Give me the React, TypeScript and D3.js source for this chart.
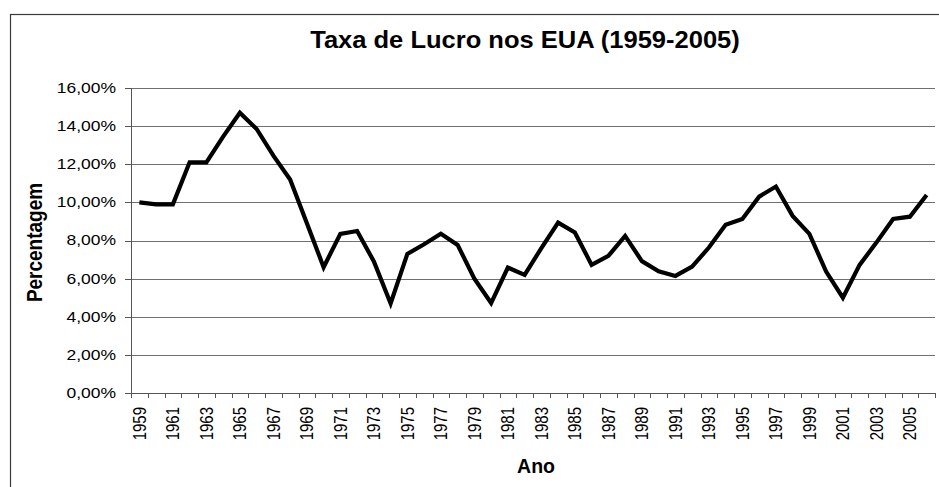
import React from 'react';
import * as d3 from 'd3';

// anos (categorias) e taxa de lucro em %
const years: number[] = [
  1959, 1960, 1961, 1962, 1963, 1964, 1965, 1966, 1967, 1968, 1969, 1970,
  1971, 1972, 1973, 1974, 1975, 1976, 1977, 1978, 1979, 1980, 1981, 1982,
  1983, 1984, 1985, 1986, 1987, 1988, 1989, 1990, 1991, 1992, 1993, 1994,
  1995, 1996, 1997, 1998, 1999, 2000, 2001, 2002, 2003, 2004, 2005, 2006,
];
const profitRate: number[] = [
  10.0, 9.9, 9.9, 12.1, 12.1, 13.45, 14.7, 13.85, 12.45, 11.2, 8.9, 6.6,
  8.35, 8.5, 6.9, 4.7, 7.3, 7.8, 8.35, 7.77, 6.0, 4.72, 6.58, 6.2,
  7.6, 8.94, 8.42, 6.72, 7.19, 8.24, 6.92, 6.38, 6.14, 6.63, 7.63, 8.82,
  9.13, 10.3, 10.83, 9.29, 8.35, 6.37, 5.0, 6.72, 7.89, 9.13, 9.25, 10.39,
];
const yTicks: number[] = [0, 2, 4, 6, 8, 10, 12, 14, 16];
const xTickLabels: number[] = [
  1959, 1961, 1963, 1965, 1967, 1969, 1971, 1973, 1975, 1977, 1979, 1981,
  1983, 1985, 1987, 1989, 1991, 1993, 1995, 1997, 1999, 2001, 2003, 2005,
];

const W = 939;
const H = 487;
const left = 131;
const right = 935;
const top = 88;
const bottom = 393;
const font = '"Liberation Sans", Arial, sans-serif';
const stretch = 1.25;

const ptBR = d3.formatLocale({ decimal: ',', thousands: '.', grouping: [3], currency: ['R$', ''] });
const fmt = (v: number) => ptBR.format('.2f')(v) + '%';

export default function App() {
  const x = d3.scaleBand<number>().domain(years).range([left, right]).padding(0);
  const y = d3.scaleLinear().domain([0, 16]).range([bottom, top]);
  const cx = (yr: number) => (x(yr) ?? 0) + x.bandwidth() / 2;

  const line = d3
    .line<number>()
    .x((_, i) => cx(years[i]))
    .y((d) => y(d));

  const boundaries = years.map((yr) => x(yr) ?? 0).concat([right]);

  return (
    <svg width={W} height={H} style={{ position: 'absolute', left: 0, top: 0 }} fontFamily={font}>
      <rect x={0} y={0} width={W} height={H} fill="#fff" />
      <rect x={10.5} y={14.5} width={940} height={490} fill="none" stroke="#3a3a3a" strokeWidth={1.2} />

      <text
        transform={`translate(525,47.5) scale(1.11,1)`}
        textAnchor="middle"
        fontSize={23}
        fontWeight="bold"
        fill="#000"
      >
        Taxa de Lucro nos EUA (1959-2005)
      </text>

      {/* grelha */}
      {yTicks.map((t) => (
        <g key={t}>
          {t > 0 && (
            <line x1={left} x2={right} y1={Math.round(y(t)) + 0.5} y2={Math.round(y(t)) + 0.5} stroke="#707070" strokeWidth={1} />
          )}
          <line x1={left - 6} x2={left} y1={Math.round(y(t)) + 0.5} y2={Math.round(y(t)) + 0.5} stroke="#555" strokeWidth={1} />
          <text
            transform={`translate(116,${y(t)}) scale(${stretch},1)`}
            textAnchor="end"
            dy="0.35em"
            fontSize={14}
            fill="#000"
          >
            {fmt(t)}
          </text>
        </g>
      ))}

      {/* eixos */}
      <line x1={left + 0.5} x2={left + 0.5} y1={top} y2={bottom} stroke="#555" strokeWidth={1} />
      <line x1={left} x2={right} y1={bottom + 0.5} y2={bottom + 0.5} stroke="#555" strokeWidth={1} />
      {boundaries.map((bx, i) => (
        <line key={i} x1={Math.round(bx) + 0.5} x2={Math.round(bx) + 0.5} y1={bottom} y2={bottom + 5} stroke="#555" strokeWidth={1} />
      ))}

      {xTickLabels.map((yr) => (
        <text
          key={yr}
          transform={`translate(${cx(yr)},407) scale(${stretch},1) rotate(-90)`}
          textAnchor="end"
          dy="0.35em"
          fontSize={15}
          fill="#000"
        >
          {yr}
        </text>
      ))}

      <path d={line(profitRate) ?? ''} fill="none" stroke="#000" strokeWidth={4.2} strokeLinejoin="miter" />

      <text
        transform={`translate(42,242.5) scale(1.2,1) rotate(-90)`}
        textAnchor="middle"
        fontSize={19}
        fontWeight="bold"
        fill="#000"
      >
        Percentagem
      </text>
      <text x={536} y={473} textAnchor="middle" fontSize={19.5} fontWeight="bold" fill="#000">
        Ano
      </text>
    </svg>
  );
}
